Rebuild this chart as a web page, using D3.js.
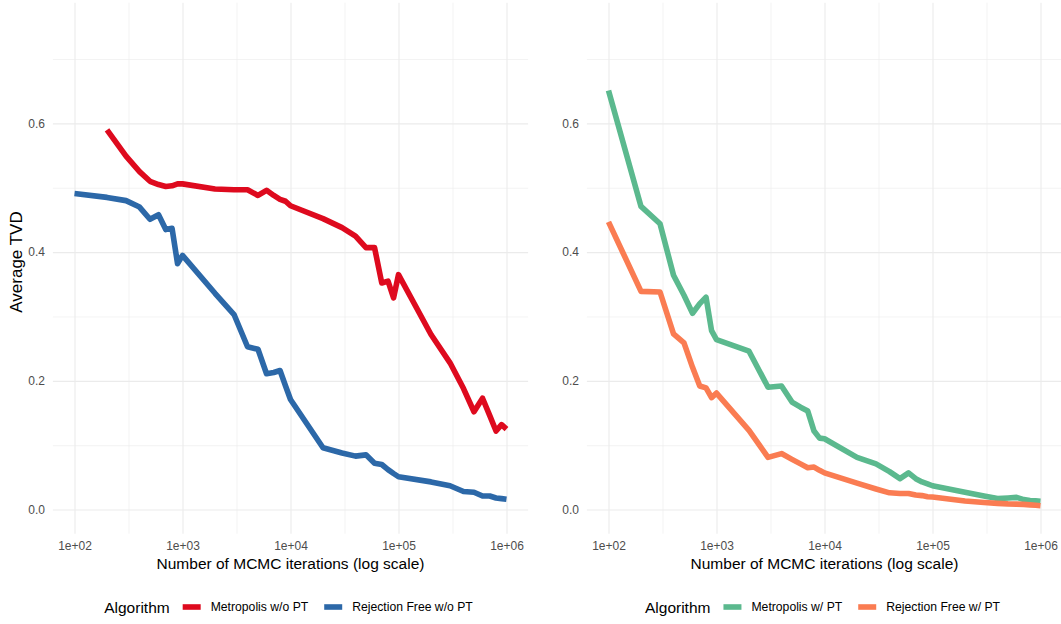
<!DOCTYPE html>
<html>
<head>
<meta charset="utf-8">
<script src="https://cdn.jsdelivr.net/npm/d3@7"></script>
<style>
  html, body { margin: 0; padding: 0; background: #ffffff; }
  svg { display: block; font-family: "Liberation Sans", Arial, Helvetica, sans-serif; }
</style>
</head>
<body>
<svg id="chart" width="1061" height="624"></svg>
<script>
// ---------------- DATA ----------------
const iterations = [
  100, 200, 300, 400, 500, 600, 700, 800, 900, 1000,
  2000, 3000, 4000, 5000, 6000, 7000, 8000, 9000, 10000,
  20000, 30000, 40000, 50000, 60000, 70000, 80000, 90000, 100000,
  200000, 300000, 400000, 500000, 600000, 700000, 800000, 900000, 1000000
];

// left panel: without parallel tempering (value at 100 for Metropolis is outside the plotted limits)
const metropolisNoPT = [
  null, 0.590, 0.549, 0.525, 0.510, 0.505, 0.502, 0.503, 0.506, 0.506,
  0.498, 0.497, 0.497, 0.488, 0.496, 0.488, 0.482, 0.479, 0.472,
  0.452, 0.438, 0.425, 0.407, 0.407, 0.352, 0.355, 0.329, 0.365,
  0.272, 0.228, 0.188, 0.152, 0.173, 0.146, 0.122, 0.132, 0.125
];
const rejectionFreeNoPT = [
  0.491, 0.485, 0.480, 0.470, 0.451, 0.458, 0.435, 0.437, 0.382, 0.395,
  0.336, 0.303, 0.253, 0.249, 0.211, 0.213, 0.216, 0.192, 0.171,
  0.096, 0.088, 0.083, 0.085, 0.072, 0.070, 0.062, 0.056, 0.051,
  0.043, 0.037, 0.028, 0.027, 0.021, 0.021, 0.018, 0.017, 0.016
];

// right panel: with parallel tempering
const metropolisPT = [
  0.651, 0.471, 0.444, 0.364, 0.333, 0.305, 0.320, 0.330, 0.278, 0.264,
  0.246, 0.190, 0.192, 0.167, 0.159, 0.153, 0.122, 0.111, 0.110,
  0.081, 0.071, 0.059, 0.048, 0.057, 0.048, 0.043, 0.040, 0.037,
  0.027, 0.021, 0.017, 0.018, 0.019, 0.0155, 0.014, 0.0137, 0.013
];
const rejectionFreePT = [
  0.447, 0.339, 0.338, 0.273, 0.259, 0.221, 0.192, 0.189, 0.174, 0.181,
  0.123, 0.081, 0.087, 0.078, 0.071, 0.065, 0.066, 0.061, 0.057,
  0.041, 0.032, 0.026, 0.025, 0.025, 0.0225, 0.0217, 0.020, 0.0194,
  0.0132, 0.011, 0.0096, 0.0088, 0.0085, 0.008, 0.0073, 0.0067, 0.006
];

const xTickValues = [1e2, 1e3, 1e4, 1e5, 1e6];
const xTickLabels = ["1e+02", "1e+03", "1e+04", "1e+05", "1e+06"];
const xMinorValues = [Math.pow(10, 2.5), Math.pow(10, 3.5), Math.pow(10, 4.5), Math.pow(10, 5.5)];
const yTickValues = [0.0, 0.2, 0.4, 0.6];
const yTickLabels = ["0.0", "0.2", "0.4", "0.6"];
const yMinorValues = [0.1, 0.3, 0.5, 0.7];

const yLimits = [0, 0.75];
const xLimits = [1e2, 1e6];

const legendTitle = "Algorithm";
const leftSeries = ["Metropolis w/o PT", "Rejection Free w/o PT"];
const rightSeries = ["Metropolis w/ PT", "Rejection Free w/ PT"];
const leftColors = ["#DE0A1E", "#2C68A8"];
const rightColors = ["#5BB98E", "#FA7C52"];

const xTitle = "Number of MCMC iterations (log scale)";
const yTitle = "Average TVD";

// ---------------- LAYOUT ----------------
const svg = d3.select("#chart");
const panelTop = 2.7, panelBottom = 533.7;
const panels = [
  { left: 52.9, right: 528.1, series: leftSeries, colors: leftColors,
    values: [metropolisNoPT, rejectionFreeNoPT], yTitle: true, labelRight: 45 },
  { left: 586.9, right: 1062.1, series: rightSeries, colors: rightColors,
    values: [metropolisPT, rejectionFreePT], yTitle: false, labelRight: 579 }
];

// expanded domains like ggplot (5% each side)
const lx0 = Math.log10(xLimits[0]), lx1 = Math.log10(xLimits[1]);
const xExp = (lx1 - lx0) * 0.05;
const yExp = (yLimits[1] - yLimits[0]) * 0.05;

const y = d3.scaleLinear()
  .domain([yLimits[0] - yExp, yLimits[1] + yExp])
  .range([panelBottom, panelTop]);

const gridColor = "#EBEBEB";
const tickColor = "#4D4D4D";

panels.forEach(p => {
  const x = d3.scaleLog()
    .domain([Math.pow(10, lx0 - xExp), Math.pow(10, lx1 + xExp)])
    .range([p.left, p.right]);

  const g = svg.append("g");

  // minor grid
  g.append("g")
    .attr("transform", `translate(0,${panelBottom})`)
    .call(d3.axisBottom(x).tickValues(xMinorValues).tickSize(-(panelBottom - panelTop)).tickFormat(""))
    .call(s => s.select(".domain").remove())
    .call(s => s.selectAll("line").attr("stroke", gridColor).attr("stroke-width", 0.6));
  g.append("g")
    .attr("transform", `translate(${p.left},0)`)
    .call(d3.axisLeft(y).tickValues(yMinorValues).tickSize(-(p.right - p.left)).tickFormat(""))
    .call(s => s.select(".domain").remove())
    .call(s => s.selectAll("line").attr("stroke", gridColor).attr("stroke-width", 0.6));

  // major grid
  g.append("g")
    .attr("transform", `translate(0,${panelBottom})`)
    .call(d3.axisBottom(x).tickValues(xTickValues).tickSize(-(panelBottom - panelTop)).tickFormat(""))
    .call(s => s.select(".domain").remove())
    .call(s => s.selectAll("line").attr("stroke", gridColor).attr("stroke-width", 1.1));
  g.append("g")
    .attr("transform", `translate(${p.left},0)`)
    .call(d3.axisLeft(y).tickValues(yTickValues).tickSize(-(p.right - p.left)).tickFormat(""))
    .call(s => s.select(".domain").remove())
    .call(s => s.selectAll("line").attr("stroke", gridColor).attr("stroke-width", 1.1));

  // x axis labels
  g.append("g")
    .attr("transform", `translate(0,${panelBottom})`)
    .call(d3.axisBottom(x).tickValues(xTickValues).tickSize(0).tickPadding(8)
      .tickFormat((d, i) => xTickLabels[i]))
    .call(s => s.select(".domain").remove())
    .call(s => s.selectAll("text").attr("fill", tickColor).attr("font-size", "12px")
      .attr("font-family", '"Liberation Sans", Arial, sans-serif'));

  // y axis labels
  g.append("g")
    .attr("transform", `translate(${p.labelRight},0)`)
    .call(d3.axisLeft(y).tickValues(yTickValues).tickSize(0).tickPadding(0)
      .tickFormat((d, i) => yTickLabels[i]))
    .call(s => s.select(".domain").remove())
    .call(s => s.selectAll("text").attr("fill", tickColor).attr("font-size", "12px")
      .attr("font-family", '"Liberation Sans", Arial, sans-serif'));

  // lines
  const line = d3.line()
    .defined(d => d.v !== null)
    .x(d => x(d.n))
    .y(d => y(d.v));

  p.values.forEach((vals, si) => {
    const pts = iterations.map((n, i) => ({ n: n, v: vals[i] }));
    g.append("path")
      .datum(pts)
      .attr("d", line)
      .attr("fill", "none")
      .attr("stroke", p.colors[si])
      .attr("stroke-width", 5.6)
      .attr("stroke-linejoin", "round")
      .attr("stroke-linecap", "butt");
  });

  const cx = (p.left + p.right) / 2;

  // x title
  g.append("text")
    .attr("x", cx)
    .attr("y", 569)
    .attr("text-anchor", "middle")
    .attr("font-size", "15.5px")
    .attr("fill", "#000")
    .text(xTitle);

  // y title
  if (p.yTitle) {
    g.append("text")
      .attr("transform", `translate(22,262) rotate(-90)`)
      .attr("text-anchor", "middle")
      .attr("font-size", "17px")
      .attr("fill", "#000")
      .text(yTitle);
  }

  // legend
  const lg = g.append("g");
  const legY = 607;
  const tTitle = lg.append("text")
    .attr("y", legY + 5.5)
    .attr("font-size", "15.5px")
    .attr("fill", "#000")
    .text(legendTitle);
  const items = p.series.map((name, i) => {
    const key = lg.append("line")
      .attr("stroke", p.colors[i]).attr("stroke-width", 5.6)
      .attr("y1", legY).attr("y2", legY);
    const t = lg.append("text")
      .attr("y", legY + 4.2)
      .attr("font-size", "12.2px")
      .attr("fill", "#000")
      .text(name);
    return { key, t };
  });
  const keyW = 18, gapTitle = 13, gapKey = 10, gapItem = 16;
  const titleW = tTitle.node().getComputedTextLength();
  let total = titleW + gapTitle;
  items.forEach((it, i) => {
    total += keyW + gapKey + it.t.node().getComputedTextLength() + (i < items.length - 1 ? gapItem : 0);
  });
  let cur = cx - 2 - total / 2;
  tTitle.attr("x", cur);
  cur += titleW + gapTitle;
  items.forEach(it => {
    it.key.attr("x1", cur).attr("x2", cur + keyW);
    cur += keyW + gapKey;
    it.t.attr("x", cur);
    cur += it.t.node().getComputedTextLength() + gapItem;
  });
});
</script>
</body>
</html>
